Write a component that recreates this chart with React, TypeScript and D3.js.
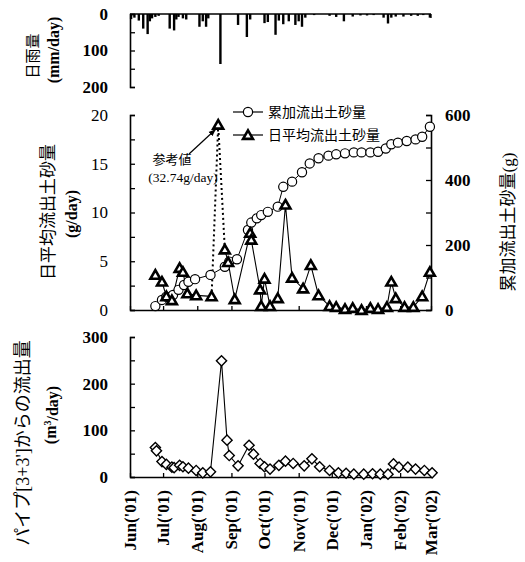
import React, { useEffect, useRef } from 'react';
import * as d3 from 'd3';

// month ticks along the shared time axis
const monthTicks = [
  '2001-06-01', '2001-07-01', '2001-08-01', '2001-09-01', '2001-10-01',
  '2001-11-01', '2001-12-01', '2002-01-01', '2002-02-01', '2002-03-01',
];
const monthLabels = [
  "Jun('01)", "Jul('01)", "Aug('01)", "Sep('01)", "Oct('01)",
  "Nov('01)", "Dec('01)", "Jan('02)", "Feb('02)", "Mar('02)",
];

// daily rainfall (mm/day)
const rainDates = [
  '2001-06-02', '2001-06-05', '2001-06-09', '2001-06-13', '2001-06-17', '2001-06-19',
  '2001-06-21', '2001-06-24', '2001-06-27', '2001-07-07', '2001-07-11', '2001-07-13',
  '2001-07-15', '2001-07-19', '2001-07-22', '2001-08-03', '2001-08-06', '2001-08-09',
  '2001-08-11', '2001-08-22', '2001-09-07', '2001-09-15', '2001-09-18', '2001-10-01',
  '2001-10-04', '2001-10-11', '2001-10-14', '2001-10-18', '2001-10-23', '2001-10-29',
  '2001-11-01', '2001-11-04', '2001-11-07', '2001-11-15', '2001-11-29', '2001-12-05',
  '2001-12-12', '2001-12-20', '2001-12-27', '2002-01-02', '2002-01-08', '2002-01-17',
  '2002-01-21', '2002-01-24', '2002-01-28', '2002-02-04', '2002-02-11', '2002-02-17',
  '2002-02-22', '2002-02-28',
];
const rainValues = [
  14, 10, 18, 40, 55, 20,
  12, 8, 5, 40, 45, 15,
  8, 12, 15, 35, 20, 35,
  12, 137, 30, 63, 15, 25,
  22, 57, 18, 28, 20, 30,
  20, 35, 10, 3, 5, 8,
  20, 7, 4, 4, 3, 10,
  26, 10, 7, 7, 5, 5,
  3, 10,
];

// cumulative sediment discharge (g)
const cumDates = [
  '2001-06-24', '2001-06-30', '2001-07-04', '2001-07-10', '2001-07-15', '2001-07-20',
  '2001-07-24', '2001-07-30', '2001-08-13', '2001-08-26', '2001-08-30', '2001-09-06',
  '2001-09-16', '2001-09-19', '2001-09-24', '2001-09-28', '2001-10-04', '2001-10-13',
  '2001-10-18', '2001-10-26', '2001-11-04', '2001-11-11', '2001-11-19', '2001-11-28',
  '2001-12-05', '2001-12-13', '2001-12-21', '2001-12-28', '2002-01-05', '2002-01-12',
  '2002-01-19', '2002-01-24', '2002-01-30', '2002-02-07', '2002-02-15', '2002-02-21',
  '2002-02-28',
];
const cumValues = [
  12, 31, 41, 46, 62, 77,
  87, 95, 108, 133, 149, 156,
  246, 269, 282, 292, 302, 318,
  379, 395, 424, 451, 467, 475,
  479, 482, 485, 485, 485, 487,
  497, 510, 515, 520, 525, 533,
  564,
];

// daily mean sediment discharge (g/day)
const dailyDates = [
  '2001-06-24', '2001-06-30', '2001-07-04', '2001-07-09', '2001-07-16', '2001-07-19',
  '2001-07-23', '2001-07-31', '2001-08-14', '2001-08-26', '2001-08-29', '2001-09-04',
  '2001-09-18', '2001-09-19', '2001-09-27', '2001-09-28', '2001-10-01', '2001-10-06',
  '2001-10-13', '2001-10-20', '2001-10-26', '2001-11-05', '2001-11-12', '2001-11-19',
  '2001-11-29', '2001-12-05', '2001-12-13', '2001-12-20', '2001-12-28', '2002-01-05',
  '2002-01-12', '2002-01-20', '2002-01-24', '2002-01-28', '2002-02-05', '2002-02-13',
  '2002-02-21', '2002-02-28',
];
const dailyValues = [
  3.6, 2.9, 1.4, 1.0, 4.3, 3.9,
  1.7, 1.5, 1.4, 6.2, 4.9, 1.1,
  7.9, 7.2, 2.1, 0.4, 3.2, 0.4,
  1.2, 10.8, 3.3, 2.2, 4.6, 1.5,
  0.4, 0.3, 0.1, 0.2, 0.0, 0.2,
  0.1, 0.3, 2.9, 1.2, 0.3, 0.3,
  1.4, 3.9,
];
// reference value, off the scale: drawn at the cap
const refDate = '2001-08-20';
const refValue = 32.74;
const refCap = 19;

// pipe outflow (m3/day)
const pipeDates = [
  '2001-06-24', '2001-06-25', '2001-06-30', '2001-07-04', '2001-07-09', '2001-07-11',
  '2001-07-16', '2001-07-19', '2001-07-24', '2001-07-31', '2001-08-06', '2001-08-13',
  '2001-08-23', '2001-08-28', '2001-08-30', '2001-09-07', '2001-09-17', '2001-09-21',
  '2001-09-27', '2001-10-01', '2001-10-06', '2001-10-14', '2001-10-20', '2001-10-27',
  '2001-11-06', '2001-11-13', '2001-11-20', '2001-11-29', '2001-12-07', '2001-12-14',
  '2001-12-21', '2001-12-30', '2002-01-07', '2002-01-14', '2002-01-21', '2002-01-26',
  '2002-01-31', '2002-02-08', '2002-02-15', '2002-02-23', '2002-03-02',
];
const pipeValues = [
  63, 56, 33, 27, 21, 20,
  25, 22, 19, 14, 9, 11,
  249, 79, 46, 24, 68, 49,
  29, 22, 17, 25, 34, 29,
  24, 39, 22, 14, 9, 8,
  6, 6, 7, 6, 6, 28,
  21, 21, 17, 14, 9,
];

const serif = '"Liberation Serif", "Times New Roman", serif';
const cjk = '"Liberation Serif", "Noto Sans CJK JP", sans-serif';

export default function App() {
  const ref = useRef<SVGSVGElement>(null);

  useEffect(() => {
    const svg = d3.select(ref.current);
    svg.selectAll('*').remove();
    const parse = d3.timeParse('%Y-%m-%d');

    // x value scaling (shared)
    const x = d3
      .scaleTime()
      .domain([parse('2001-06-01') as Date, parse('2002-03-01') as Date])
      .range([130, 431]);

    const yRain = d3.scaleLinear().domain([0, 200]).range([14, 87]);
    const yDaily = d3.scaleLinear().domain([0, 20]).range([310, 115]);
    const yCum = d3.scaleLinear().domain([0, 600]).range([310, 115]);
    const yPipe = d3.scaleLinear().domain([0, 300]).range([477, 337]);

    const months = monthTicks.map((d) => parse(d) as Date);

    const styleAxis = (g: any) => {
      g.select('.domain').attr('stroke', '#000').attr('stroke-width', 1.6);
      g.selectAll('.tick line').attr('stroke', '#000').attr('stroke-width', 1.3);
    };

    const tickLabels = (vals: number[], scale: any, tx: number, anchor: string, bold: boolean) =>
      svg
        .append('g')
        .selectAll('text')
        .data(vals)
        .join('text')
        .attr('x', tx)
        .attr('y', (d) => scale(d))
        .attr('dy', '0.35em')
        .attr('text-anchor', anchor)
        .style('font-family', serif)
        .style('font-size', '17px')
        .style('font-weight', bold ? 'bold' : 'normal')
        .text((d) => d);

    // ---------- top panel: rainfall ----------
    const top = svg.append('g');
    top
      .append('g')
      .attr('transform', 'translate(130,0)')
      .call(
        d3
          .axisRight(yRain)
          .tickValues([0, 50, 100, 150, 200])
          .tickSize(5)
          .tickSizeOuter(5)
          .tickFormat(() => ''),
      )
      .call(styleAxis);
    tickLabels([0, 100, 200], yRain, 108, 'end', true);
    top
      .append('line')
      .attr('x1', x.range()[0])
      .attr('x2', x.range()[1])
      .attr('y1', yRain(0))
      .attr('y2', yRain(0))
      .attr('stroke', '#000')
      .attr('stroke-width', 1.6);
    top
      .append('line')
      .attr('x1', x.range()[1])
      .attr('x2', x.range()[1])
      .attr('y1', yRain(0))
      .attr('y2', yRain(0) + 4)
      .attr('stroke', '#000')
      .attr('stroke-width', 1.3);
    top
      .append('g')
      .selectAll('rect')
      .data(rainDates.map((d, i) => ({ date: parse(d) as Date, v: rainValues[i] })))
      .join('rect')
      .attr('x', (d) => x(d.date) - 1.2)
      .attr('y', yRain(0))
      .attr('width', 2.4)
      .attr('height', (d) => yRain(d.v) - yRain(0))
      .attr('fill', '#000');

    // ---------- middle panel: sediment ----------
    const mid = svg.append('g');
    mid
      .append('g')
      .attr('transform', 'translate(130,0)')
      .call(
        d3
          .axisRight(yDaily)
          .tickValues(d3.range(0, 20.01, 2.5))
          .tickSize(5)
          .tickSizeOuter(5)
          .tickFormat(() => ''),
      )
      .call(styleAxis);
    tickLabels([0, 5, 10, 15, 20], yDaily, 108, 'end', false);
    mid
      .append('g')
      .attr('transform', 'translate(431,0)')
      .call(
        d3
          .axisLeft(yCum)
          .tickValues(d3.range(0, 601, 100))
          .tickSize(5)
          .tickSizeOuter(5)
          .tickFormat(() => ''),
      )
      .call(styleAxis);
    tickLabels([0, 200, 400, 600], yCum, 445, 'start', true);
    mid
      .append('g')
      .attr('transform', `translate(0,${yDaily(0)})`)
      .call(d3.axisTop(x).tickValues(months).tickSize(4).tickSizeOuter(0).tickFormat(() => ''))
      .call(styleAxis);

    // cumulative line
    const cum = cumDates.map((d, i) => ({ date: parse(d) as Date, v: cumValues[i] }));
    mid
      .append('path')
      .datum(cum)
      .attr('fill', 'none')
      .attr('stroke', '#000')
      .attr('stroke-width', 1)
      .attr('d', d3.line<any>().x((d) => x(d.date)).y((d) => yCum(d.v)));

    // daily line (solid), split around the off-scale reference value
    const daily = dailyDates.map((d, i) => ({ date: parse(d) as Date, v: dailyValues[i] }));
    const refDay = parse(refDate) as Date;
    const before = daily.filter((d) => d.date < refDay);
    const after = daily.filter((d) => d.date > refDay);
    const lineDaily = d3.line<any>().x((d) => x(d.date)).y((d) => yDaily(d.v));
    [before, after].forEach((seg) =>
      mid
        .append('path')
        .datum(seg)
        .attr('fill', 'none')
        .attr('stroke', '#000')
        .attr('stroke-width', 1.1)
        .attr('d', lineDaily),
    );
    const refPoint = { date: refDay, v: Math.min(refValue, refCap) };
    mid
      .append('path')
      .datum([before[before.length - 1], refPoint, after[0]])
      .attr('fill', 'none')
      .attr('stroke', '#000')
      .attr('stroke-width', 2)
      .attr('stroke-dasharray', '2,3')
      .attr('d', lineDaily);

    mid
      .append('g')
      .selectAll('circle')
      .data(cum)
      .join('circle')
      .attr('cx', (d) => x(d.date))
      .attr('cy', (d) => yCum(d.v))
      .attr('r', 4.6)
      .attr('fill', '#fff')
      .attr('stroke', '#000')
      .attr('stroke-width', 1.2);

    const tri = d3.symbol().type(d3.symbolTriangle).size(42);
    mid
      .append('g')
      .selectAll('path')
      .data([...daily, refPoint])
      .join('path')
      .attr('transform', (d) => `translate(${x(d.date)},${yDaily(d.v) + 1})`)
      .attr('d', tri() as string)
      .attr('fill', '#fff')
      .attr('stroke', '#000')
      .attr('stroke-width', 2.6)
      .attr('stroke-linejoin', 'miter');

    // annotation of the reference value
    svg
      .append('defs')
      .append('marker')
      .attr('id', 'arrow')
      .attr('viewBox', '0 0 10 10')
      .attr('refX', 9)
      .attr('refY', 5)
      .attr('markerWidth', 6)
      .attr('markerHeight', 6)
      .attr('orient', 'auto')
      .append('path')
      .attr('d', 'M0,1L10,5L0,9z')
      .attr('fill', '#000');
    mid
      .append('line')
      .attr('x1', 189)
      .attr('y1', 154)
      .attr('x2', x(refDay) - 3)
      .attr('y2', yDaily(refCap) + 5)
      .attr('stroke', '#000')
      .attr('stroke-width', 1.2)
      .attr('marker-end', 'url(#arrow)');
    mid
      .append('text')
      .attr('x', 172)
      .attr('y', 164)
      .attr('text-anchor', 'middle')
      .style('font-family', cjk)
      .style('font-size', '13px')
      .text('参考値');
    mid
      .append('text')
      .attr('x', 183)
      .attr('y', 182)
      .attr('text-anchor', 'middle')
      .style('font-family', serif)
      .style('font-size', '13.5px')
      .text(`(${refValue}g/day)`);

    // legend
    const leg = mid.append('g');
    [112, 135].forEach((ly, i) => {
      leg
        .append('line')
        .attr('x1', 233)
        .attr('x2', 263)
        .attr('y1', ly)
        .attr('y2', ly)
        .attr('stroke', '#000')
        .attr('stroke-width', 1.2);
      if (i === 0) {
        leg
          .append('circle')
          .attr('cx', 248)
          .attr('cy', ly)
          .attr('r', 4.6)
          .attr('fill', '#fff')
          .attr('stroke', '#000')
          .attr('stroke-width', 1.2);
      } else {
        leg
          .append('path')
          .attr('transform', `translate(248,${ly + 1})`)
          .attr('d', tri() as string)
          .attr('fill', '#fff')
          .attr('stroke', '#000')
          .attr('stroke-width', 2.6);
      }
      leg
        .append('text')
        .attr('x', 268)
        .attr('y', ly)
        .attr('dy', '0.35em')
        .style('font-family', cjk)
        .style('font-size', '14px')
        .text(i === 0 ? '累加流出土砂量' : '日平均流出土砂量');
    });

    // ---------- bottom panel: pipe outflow ----------
    const bot = svg.append('g');
    bot
      .append('g')
      .attr('transform', 'translate(130,0)')
      .call(
        d3
          .axisRight(yPipe)
          .tickValues(d3.range(0, 301, 50))
          .tickSize(5)
          .tickSizeOuter(5)
          .tickFormat(() => ''),
      )
      .call(styleAxis);
    tickLabels([0, 100, 200, 300], yPipe, 108, 'end', true);
    bot
      .append('g')
      .attr('transform', `translate(0,${yPipe(0)})`)
      .call(d3.axisTop(x).tickValues(months).tickSize(4).tickSizeOuter(0).tickFormat(() => ''))
      .call(styleAxis);

    const pipe = pipeDates.map((d, i) => ({ date: parse(d) as Date, v: pipeValues[i] }));
    bot
      .append('path')
      .datum(pipe)
      .attr('fill', 'none')
      .attr('stroke', '#000')
      .attr('stroke-width', 1.1)
      .attr('d', d3.line<any>().x((d) => x(d.date)).y((d) => yPipe(d.v)));
    bot
      .append('g')
      .selectAll('rect')
      .data(pipe)
      .join('rect')
      .attr('x', -3.6)
      .attr('y', -3.6)
      .attr('width', 7.2)
      .attr('height', 7.2)
      .attr('transform', (d) => `translate(${x(d.date)},${yPipe(d.v)}) rotate(45)`)
      .attr('fill', '#fff')
      .attr('stroke', '#000')
      .attr('stroke-width', 1.4);

    // month labels
    svg
      .append('g')
      .selectAll('text')
      .data(months)
      .join('text')
      .attr('transform', (d) => `translate(${x(d)},490) rotate(-90)`)
      .attr('dy', '0.35em')
      .attr('text-anchor', 'end')
      .style('font-family', serif)
      .style('font-size', '17px')
      .style('font-weight', 'bold')
      .text((d, i) => monthLabels[i]);

    // axis titles
    const title = (tx: number, ty: number, txt: string, size: number, font: string, bold = false) =>
      svg
        .append('text')
        .attr('transform', `translate(${tx},${ty}) rotate(-90)`)
        .attr('text-anchor', 'middle')
        .attr('dy', '0.35em')
        .style('font-family', font)
        .style('font-size', `${size}px`)
        .style('font-weight', bold ? 'bold' : 'normal')
        .text(txt);
    title(33, 56, '日雨量', 15, cjk);
    title(53, 50, '(mm/day)', 16, serif, true);
    title(48, 212, '日平均流出土砂量', 17, cjk);
    title(71, 214, '(g/day)', 16, serif, true);
    title(508, 222, '累加流出土砂量(g)', 17, cjk);
    title(23, 443, "パイプ[3+3']からの流出量", 18, cjk);
    const unit = svg
      .append('text')
      .attr('transform', 'translate(50,415) rotate(-90)')
      .attr('text-anchor', 'middle')
      .attr('dy', '0.35em')
      .style('font-family', serif)
      .style('font-size', '16px')
      .style('font-weight', 'bold');
    unit.append('tspan').text('(m');
    unit.append('tspan').attr('dy', '-0.45em').style('font-size', '10px').text('3');
    unit.append('tspan').attr('dy', '0.45em').text('/day)');
  });

  return (
    <svg
      ref={ref}
      width={525}
      height={562}
      style={{ position: 'absolute', left: 0, top: 0, display: 'block', background: '#fff' }}
    />
  );
}
